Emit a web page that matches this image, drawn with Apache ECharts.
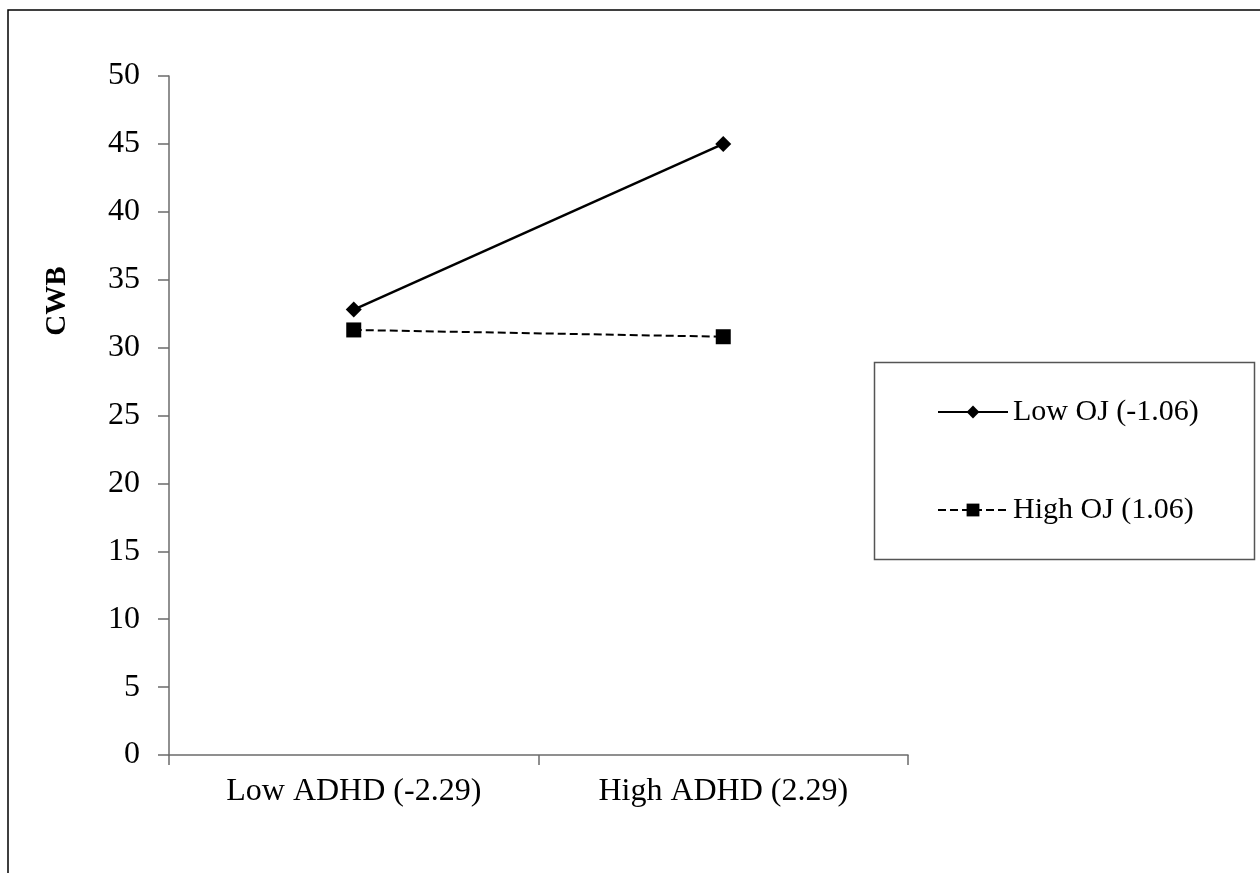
<!DOCTYPE html>
<html>
<head>
<meta charset="utf-8">
<script src="https://cdn.jsdelivr.net/npm/echarts@6/dist/echarts.min.js"></script>
<style>
    html, body { margin: 0; padding: 0; background: #fff; }
    #chart { width: 1260px; height: 873px; }
</style>
</head>
<body>
<div id="chart"></div>
<script>
// 数据
const categories = ['Low ADHD (-2.29)', 'High ADHD (2.29)'];
const lowOJ = [32.8, 45.0];
const highOJ = [31.3, 30.8];
const seriesNames = ['Low OJ (-1.06)', 'High OJ (1.06)'];
const yTicks = [0, 5, 10, 15, 20, 25, 30, 35, 40, 45, 50];

const serif = '"Liberation Serif", "Times New Roman", serif';
const axisColor = '#6b6b6b';

const chart = echarts.init(document.getElementById('chart'));
const option = {
    animation: false,
    backgroundColor: '#fff',
    textStyle: { fontFamily: serif },
    grid: {
        left: 169,
        right: 352,
        top: 76,
        bottom: 118,
        containLabel: false,
        outerBoundsMode: 'none'
    },
    xAxis: {
        type: 'category',
        data: categories,
        boundaryGap: true,
        axisLine: { show: true, lineStyle: { color: axisColor, width: 1.5 } },
        axisTick: { show: true, length: 10, lineStyle: { color: axisColor, width: 1.5 } },
        axisLabel: { color: '#000', fontSize: 32, fontFamily: serif, margin: 21 },
        splitLine: { show: false }
    },
    yAxis: {
        type: 'value',
        min: yTicks[0],
        max: yTicks[yTicks.length - 1],
        interval: 5,
        axisLine: { show: true, lineStyle: { color: axisColor, width: 1.5 } },
        axisTick: { show: true, length: 11, lineStyle: { color: axisColor, width: 1.5 } },
        axisLabel: { color: '#000', fontSize: 32, fontFamily: serif, margin: 29 },
        splitLine: { show: false }
    },
    legend: {
        orient: 'vertical',
        left: 937,
        top: 397,
        padding: 0,
        itemWidth: 70,
        itemHeight: 16,
        itemGap: 68,
        textStyle: { color: '#000', fontSize: 30, fontFamily: serif, lineHeight: 30 },
        data: seriesNames
    },
    graphic: [
        // 外框
        {
            type: 'rect',
            shape: { x: 8, y: 10, width: 1300, height: 900 },
            style: { fill: 'none', stroke: '#000', lineWidth: 1.5 },
            silent: true
        },
        // 图例框
        {
            type: 'rect',
            shape: { x: 874.5, y: 362.5, width: 380, height: 197 },
            style: { fill: 'none', stroke: '#555', lineWidth: 1.5 },
            silent: true
        },
        {
            type: 'text',
            x: 58,
            y: 301,
            rotation: Math.PI / 2,
            style: {
                text: 'CWB',
                font: 'bold 29px ' + serif,
                fill: '#000',
                align: 'center',
                verticalAlign: 'middle'
            }
        }
    ],
    series: [
        {
            name: seriesNames[0],
            type: 'line',
            data: lowOJ,
            symbol: 'diamond',
            symbolSize: 16,
            itemStyle: { color: '#000' },
            lineStyle: { color: '#000', width: 2.5, type: 'solid' }
        },
        {
            name: seriesNames[1],
            type: 'line',
            data: highOJ,
            symbol: 'rect',
            symbolSize: 15,
            itemStyle: { color: '#000' },
            lineStyle: { color: '#000', width: 2, type: [8, 4] }
        }
    ]
};
chart.setOption(option);
</script>
</body>
</html>
